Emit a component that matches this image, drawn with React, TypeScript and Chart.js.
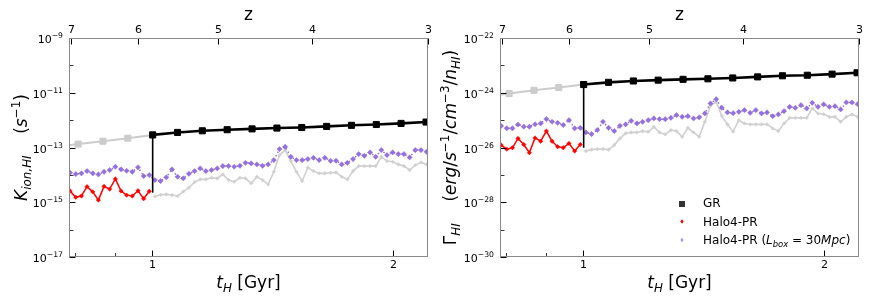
import React, { useEffect, useRef } from "react";
import { Chart, registerables } from "chart.js";
Chart.register(...registerables);

const FAM = '"DejaVu Sans", "Liberation Sans", sans-serif';

// ---------------- data ----------------
// snapshot times (Gyr) of the Halo4-PR runs
const tSnap = [
  0.7898, 0.8028, 0.816, 0.8292, 0.843, 0.8568, 0.8708, 0.8851, 0.8997, 0.9146, 0.9294, 0.9447, 0.9603, 0.9761, 0.992,
  1.0083, 1.0249, 1.0418, 1.059, 1.0762, 1.0939, 1.1119, 1.1303, 1.1486, 1.1676, 1.1868, 1.2064, 1.226, 1.2462, 1.2668,
  1.2877, 1.3086, 1.3302, 1.3521, 1.3744, 1.3968, 1.4198, 1.4433, 1.467, 1.4909, 1.5155, 1.5405, 1.5659, 1.5914, 1.6177,
  1.6443, 1.6715, 1.6982, 1.7262, 1.7546, 1.7835, 1.8126, 1.8424, 1.8728, 1.9036, 1.9346, 1.9665, 1.9989, 2.0318, 2.065,
  2.099, 2.1336, 2.1688, 2.204,
];
const nEarly = 15; // snapshots before the GR switch
// GR snapshot times (Gyr)
const tGrBefore = [0.75, 0.8082, 0.8682, 0.9324, 1.0017];
const tGrAfter = [1.0017, 1.076, 1.1557, 1.2413, 1.3335, 1.4325, 1.5387, 1.653, 1.7755, 1.907, 2.048, 2.2004];

const tRange = [0.7873, 2.213];
const tMajorTicks = [1, 2];
const tMinorTicks = [0.8, 0.9];
const zTickLabels = ["7", "6", "5", "4", "3"];
const zTickTimes = [0.792, 0.961, 1.208, 1.586, 2.213];

// ---- left panel: K_ion,HI (log10 s^-1) ----
const kionTickExps = [-17, -15, -13, -11, -9];
const kionMinorExps = [-16, -14, -12, -10];
const kionGrBefore = [-12.99, -12.876, -12.77, -12.66, -12.54];
const kionGrAfter = [-12.54, -12.45, -12.39, -12.35, -12.32, -12.29, -12.27, -12.23, -12.19, -12.16, -12.12, -12.07];
const kionSwitch = [-14.65, -12.54];
const kionPr = [-14.59, -14.82, -14.77, -14.43, -14.62, -14.92, -14.42, -14.52, -14.15, -14.59, -14.74, -14.77, -14.58, -14.87, -14.6];
const kionPrAfter = [
  -14.792, -14.726, -14.712, -14.737, -14.774, -14.609, -14.464, -14.263, -14.164, -14.164, -14.106, -14.128, -13.982,
  -14.19, -14.252, -14.106, -14.128, -14.31, -14.069, -14.19, -14.347, -13.887, -13.277, -13.095, -13.496, -13.887,
  -14.226, -13.734, -13.861, -13.945, -13.945, -13.923, -13.909, -14.069, -14.164, -13.861, -13.679, -13.679, -13.679,
  -13.679, -13.339, -13.496, -13.522, -13.617, -13.679, -13.825, -13.642, -13.544, -13.617,
];
const kionPr30 = [
  -13.923, -13.971, -13.945, -13.861, -13.945, -13.982, -13.887, -13.825, -13.704, -13.799, -13.85, -13.887, -13.726,
  -14.044, -14.007, -14.19, -14.226, -14.091, -13.799, -14.069, -14.128, -13.96, -13.861, -13.763, -13.861, -13.825,
  -13.763, -13.679, -13.679, -13.704, -13.668, -13.558, -13.58, -13.617, -13.668, -13.617, -13.46, -13.058, -12.974,
  -13.339, -13.46, -13.46, -13.423, -13.376, -13.46, -13.376, -13.485, -13.485, -13.617, -13.558, -13.423, -13.241,
  -13.303, -13.179, -13.339, -13.095, -13.277, -13.179, -13.241, -13.241, -13.361, -13.095, -13.095, -13.157,
];

// ---- right panel: Gamma_HI (log10 erg/s/cm^3/n_HI) ----
const gammaTickExps = [-30, -28, -26, -24, -22];
const gammaMinorExps = [-29, -27, -25, -23];
const gammaGrBefore = [-24.15, -24.03, -23.91, -23.81, -23.7];
const gammaGrAfter = [-23.7, -23.62, -23.57, -23.54, -23.51, -23.49, -23.46, -23.42, -23.38, -23.36, -23.32, -23.27];
const gammaSwitch = [-26.01, -23.7];
const gammaPr = [-25.91, -26.06, -26.01, -25.67, -25.89, -26.19, -25.65, -25.77, -25.4, -25.77, -25.97, -26.01, -25.85, -26.13, -25.89];
const gammaPrAfter = [
  -26.131, -26.077, -26.058, -26.058, -26.077, -25.912, -25.668, -25.485, -25.449, -25.449, -25.401, -25.427, -25.245,
  -25.449, -25.522, -25.365, -25.401, -25.609, -25.281, -25.449, -25.609, -25.062, -24.478, -24.332, -24.843, -25.157,
  -25.42, -25.0, -25.12, -25.157, -25.157, -25.157, -25.157, -25.303, -25.401, -25.12, -24.916, -24.916, -24.916,
  -24.916, -24.573, -24.755, -24.781, -24.88, -24.88, -25.062, -24.88, -24.792, -24.88,
];
const gammaPr30 = [
  -25.21, -25.3, -25.3, -25.16, -25.24, -25.24, -25.15, -25.12, -24.96, -25.06, -25.1, -25.18, -25.0, -25.3, -25.28,
  -25.45, -25.51, -25.36, -25.06, -25.28, -25.4, -25.21, -25.157, -25.026, -25.12, -25.062, -25.0, -24.938, -24.964,
  -24.964, -24.916, -24.818, -24.88, -24.854, -24.938, -24.901, -24.755, -24.391, -24.234, -24.551, -24.719, -24.745,
  -24.697, -24.635, -24.734, -24.635, -24.755, -24.719, -24.854, -24.792, -24.672, -24.515, -24.551, -24.453, -24.573,
  -24.369, -24.515, -24.427, -24.515, -24.489, -24.609, -24.354, -24.354, -24.416,
];

const legendNames = ["GR", "Halo4-PR", "Halo4-PR"];

// ---------------- colours ----------------
const C_GR = "#000000";
const C_GREY = "#cccccc";
const C_PR = "#ff0000";
const C_PR30 = "#9370db";

// ---------------- mathtext-like text ----------------
type Seg = { t: string; it?: boolean; sub?: boolean; sup?: boolean };
function fontOf(s: Seg, size: number) {
  const sz = s.sub || s.sup ? size * 0.7 : size;
  return `${s.it ? "italic " : ""}${sz.toFixed(2)}px ${FAM}`;
}
function measureMath(ctx: CanvasRenderingContext2D, segs: Seg[], size: number) {
  let w = 0;
  for (const s of segs) {
    ctx.font = fontOf(s, size);
    w += ctx.measureText(s.t).width;
  }
  return w;
}
function drawMath(ctx: CanvasRenderingContext2D, segs: Seg[], x: number, y: number, size: number, align: string) {
  const w = measureMath(ctx, segs, size);
  let cx = align === "left" ? x : align === "center" ? x - w / 2 : x - w;
  ctx.textAlign = "left";
  ctx.textBaseline = "alphabetic";
  for (const s of segs) {
    ctx.font = fontOf(s, size);
    const dy = s.sub ? size * 0.22 : s.sup ? -size * 0.42 : 0;
    ctx.fillText(s.t, cx, y + dy);
    cx += ctx.measureText(s.t).width;
  }
}
const expLabel = (e: number): Seg[] => [{ t: "10" }, { t: "\u2212" + Math.abs(e), sup: true }];

type Panel = {
  grBefore: number[];
  grAfter: number[];
  sw: number[];
  pr: number[];
  prAfter: number[];
  pr30: number[];
  tickExps: number[];
  minorExps: number[];
  yTitle: Seg[];
  yTitleX: number;
  padding: { left: number; right: number; top: number; bottom: number };
  legend: boolean;
};

const leftPanel: Panel = {
  grBefore: kionGrBefore,
  grAfter: kionGrAfter,
  sw: kionSwitch,
  pr: kionPr,
  prAfter: kionPrAfter,
  pr30: kionPr30,
  tickExps: kionTickExps,
  minorExps: kionMinorExps,
  yTitle: [
    { t: "K", it: true },
    { t: "ion,HI", it: true, sub: true },
    { t: "    " },
    { t: "(" },
    { t: "s", it: true },
    { t: "\u22121", sup: true },
    { t: ")" },
  ],
  yTitleX: 27,
  padding: { left: 69, right: 8, top: 38, bottom: 43 },
  legend: false,
};

const rightPanel: Panel = {
  grBefore: gammaGrBefore,
  grAfter: gammaGrAfter,
  sw: gammaSwitch,
  pr: gammaPr,
  prAfter: gammaPrAfter,
  pr30: gammaPr30,
  tickExps: gammaTickExps,
  minorExps: gammaMinorExps,
  yTitle: [
    { t: "\u0393" },
    { t: "HI", it: true, sub: true },
    { t: "    " },
    { t: "(" },
    { t: "erg", it: true },
    { t: "/" },
    { t: "s", it: true },
    { t: "\u22121", sup: true },
    { t: "/" },
    { t: "cm", it: true },
    { t: "\u22123", sup: true },
    { t: "/" },
    { t: "n", it: true },
    { t: "HI", it: true, sub: true },
    { t: ")" },
  ],
  yTitleX: 20,
  padding: { left: 64, right: 13, top: 38, bottom: 43 },
  legend: true,
};

const pts = (ts: number[], logs: number[]) => logs.map((v, i) => ({ x: ts[i], y: Math.pow(10, v) }));

function makeDecor(p: Panel) {
  return {
    id: "decor",
    afterDraw(chart: any) {
      const ctx: CanvasRenderingContext2D = chart.ctx;
      const a = chart.chartArea;
      const xs = chart.scales.x;
      const ys = chart.scales.y;
      const L = Math.round(a.left) + 0.5;
      const R = Math.round(a.right) - 0.5;
      const T = Math.round(a.top) + 0.5;
      const B = Math.round(a.bottom) - 0.5;
      ctx.save();
      // ticks (inward)
      ctx.strokeStyle = "#000";
      const tick = (x1: number, y1: number, x2: number, y2: number, w: number) => {
        ctx.lineWidth = w;
        ctx.beginPath();
        ctx.moveTo(x1, y1);
        ctx.lineTo(x2, y2);
        ctx.stroke();
      };
      ctx.fillStyle = "#000";
      for (const e of p.tickExps) {
        const y = Math.round(ys.getPixelForValue(Math.pow(10, e))) + 0.5;
        tick(L, y, L + 6, y, 1);
        drawMath(ctx, expLabel(e), a.left - 6, y + 4.3, 11, "right");
      }
      for (const e of p.minorExps) {
        const y = Math.round(ys.getPixelForValue(Math.pow(10, e))) + 0.5;
        tick(L, y, L + 4, y, 0.8);
      }
      for (const t of tMajorTicks) {
        const x = Math.round(xs.getPixelForValue(t)) + 0.5;
        tick(x, B, x, B - 6, 1);
        drawMath(ctx, [{ t: String(t) }], x, a.bottom + 10.5, 11, "center");
      }
      for (const t of tMinorTicks) {
        const x = Math.round(xs.getPixelForValue(t)) + 0.5;
        tick(x, B, x, B - 3.5, 0.8);
      }
      zTickTimes.forEach((t, i) => {
        const x = Math.round(xs.getPixelForValue(t)) + 0.5;
        tick(x, T, x, T + 6, 1);
        drawMath(ctx, [{ t: zTickLabels[i] }], x, a.top - 5, 11, "center");
      });
      // frame
      ctx.strokeStyle = "#8a8a8a";
      ctx.lineWidth = 1;
      ctx.strokeRect(L, T, R - L, B - T);
      // titles
      ctx.fillStyle = "#000";
      const cxm = (a.left + a.right) / 2;
      drawMath(ctx, [{ t: "t", it: true }, { t: "H", it: true, sub: true }, { t: " [Gyr]" }], cxm, 288, 17, "center");
      drawMath(ctx, [{ t: "z" }], cxm, 20, 17, "center");
      ctx.save();
      ctx.translate(p.yTitleX, (a.top + a.bottom) / 2);
      ctx.rotate(-Math.PI / 2);
      drawMath(ctx, p.yTitle, 0, 0, 17, "center");
      ctx.restore();
      // legend
      if (p.legend) {
        const mx = 246;
        const tx = 267;
        const bases = [207, 225.5, 244];
        ctx.fillStyle = "#333";
        ctx.fillRect(mx - 3, bases[0] - 6, 6, 6);
        const diamond = (cx: number, cy: number, r: number, col: string) => {
          ctx.fillStyle = col;
          ctx.beginPath();
          ctx.moveTo(cx, cy - r);
          ctx.lineTo(cx + r * 0.75, cy);
          ctx.lineTo(cx, cy + r);
          ctx.lineTo(cx - r * 0.75, cy);
          ctx.closePath();
          ctx.fill();
        };
        diamond(mx, bases[1] - 4, 2.2, C_PR);
        diamond(mx, bases[2] - 4, 2.2, "#a895e8");
        ctx.fillStyle = "#000";
        drawMath(ctx, [{ t: legendNames[0] }], tx, bases[0], 12, "left");
        drawMath(ctx, [{ t: legendNames[1] }], tx, bases[1], 12, "left");
        drawMath(
          ctx,
          [
            { t: legendNames[2] + " (" },
            { t: "L", it: true },
            { t: "box", it: true, sub: true },
            { t: " = 30" },
            { t: "Mpc", it: true },
            { t: ")" },
          ],
          tx,
          bases[2],
          12,
          "left"
        );
      }
      ctx.restore();
    },
  };
}

function makeConfig(p: Panel): any {
  const tEarly = tSnap.slice(0, nEarly);
  const tLate = tSnap.slice(nEarly);
  return {
    type: "line",
    data: {
      datasets: [
        {
          data: pts(tGrAfter, p.grAfter),
          borderColor: C_GR,
          backgroundColor: C_GR,
          borderWidth: 2.6,
          pointStyle: "rect",
          pointRadius: 4.3,
          pointBorderWidth: 1,
          order: 1,
        },
        {
          data: [
            { x: tGrAfter[0], y: Math.pow(10, p.sw[0]) },
            { x: tGrAfter[0], y: Math.pow(10, p.sw[1]) },
          ],
          borderColor: C_GR,
          borderWidth: 1.6,
          pointRadius: 0,
          order: 2,
        },
        {
          data: pts(tEarly, p.pr),
          borderColor: C_PR,
          backgroundColor: C_PR,
          borderWidth: 1.5,
          pointStyle: "rectRot",
          pointRadius: 2.2,
          pointBorderWidth: 0.5,
          order: 3,
        },
        {
          data: pts(tSnap, p.pr30),
          borderColor: C_PR30,
          backgroundColor: C_PR30,
          borderWidth: 1.5,
          borderDash: [1.5, 2.5],
          pointStyle: "rectRot",
          pointRadius: 2.6,
          pointBorderWidth: 0.5,
          order: 4,
        },
        {
          data: pts(tGrBefore, p.grBefore),
          borderColor: C_GREY,
          backgroundColor: C_GREY,
          borderWidth: 2,
          pointStyle: "rect",
          pointRadius: 4.3,
          pointBorderWidth: 1,
          order: 5,
        },
        {
          data: pts(tLate, p.prAfter),
          borderColor: "#d0d0d0",
          backgroundColor: "#d0d0d0",
          borderWidth: 1.6,
          pointStyle: "rectRot",
          pointRadius: 1.8,
          pointBorderWidth: 0.5,
          order: 6,
        },
      ],
    },
    options: {
      responsive: false,
      maintainAspectRatio: false,
      devicePixelRatio: 1,
      animation: false,
      events: [],
      layout: { padding: p.padding },
      elements: { line: { tension: 0 } },
      plugins: { legend: { display: false }, tooltip: { enabled: false }, title: { display: false } },
      scales: {
        x: { type: "logarithmic", min: tRange[0], max: tRange[1], display: false },
        y: {
          type: "logarithmic",
          min: Math.pow(10, Math.min(...p.tickExps)),
          max: Math.pow(10, Math.max(...p.tickExps)),
          display: false,
        },
      },
    },
    plugins: [makeDecor(p)],
  };
}

export default function App() {
  const leftRef = useRef<HTMLCanvasElement>(null);
  const rightRef = useRef<HTMLCanvasElement>(null);
  useEffect(() => {
    const c1 = new Chart(leftRef.current as HTMLCanvasElement, makeConfig(leftPanel));
    const c2 = new Chart(rightRef.current as HTMLCanvasElement, makeConfig(rightPanel));
    return () => {
      c1.destroy();
      c2.destroy();
    };
  }, []);
  return (
    <div style={{ position: "absolute", left: 0, top: 0, width: 872, height: 300, background: "#fff" }}>
      <canvas
        ref={leftRef}
        width={436}
        height={300}
        style={{ position: "absolute", left: 0, top: 0, width: 436, height: 300 }}
      />
      <canvas
        ref={rightRef}
        width={436}
        height={300}
        style={{ position: "absolute", left: 436, top: 0, width: 436, height: 300 }}
      />
    </div>
  );
}
